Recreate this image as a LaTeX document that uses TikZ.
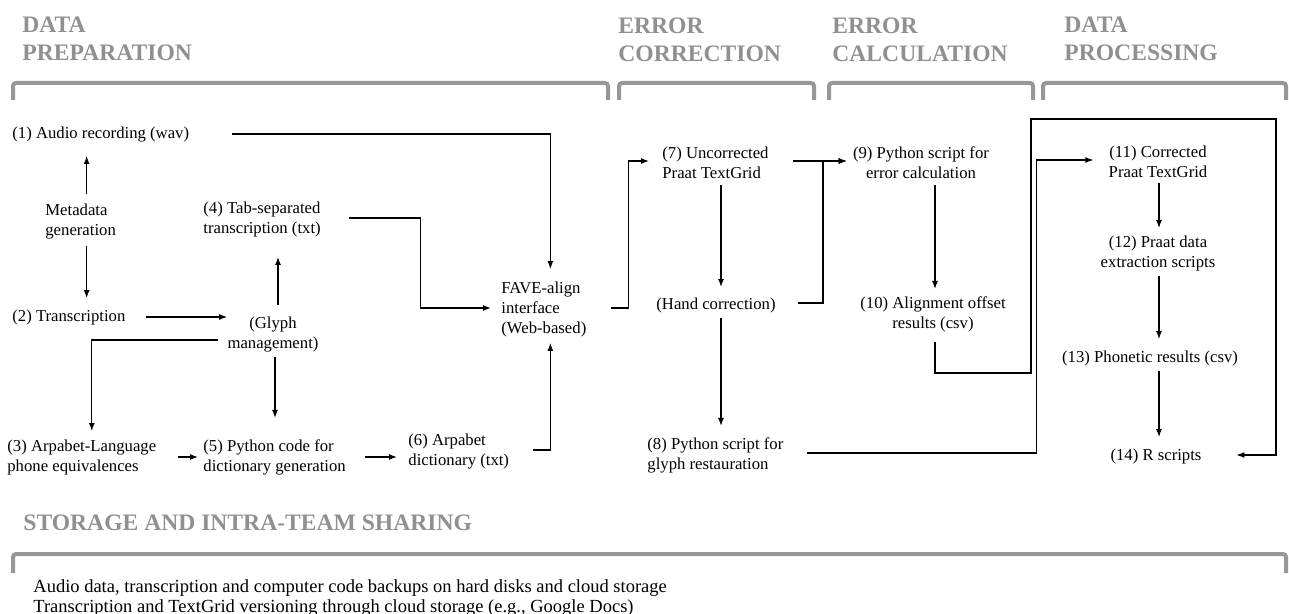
\documentclass[tikz,border=0pt]{standalone}
\usepackage{fontspec}
\setmainfont{Liberation Serif}
\usepackage{tikz}
\usetikzlibrary{calc,arrows.meta}

\definecolor{hdrgray}{RGB}{143,143,148}
\definecolor{brkgray}{RGB}{150,150,155}

\begin{document}
\begin{tikzpicture}[>={Latex[length=4pt,width=3pt]}, x=0.5pt, y=-0.5pt]
\tikzset{
  hdr/.style={font=\fontsize{11.8}{14}\selectfont\bfseries, text=hdrgray, align=left, anchor=north west, inner sep=0pt},
  brk/.style={draw=brkgray, line width=2pt, rounded corners=1.5pt},
  box/.style={font=\fontsize{8.35}{10}\selectfont, inner sep=0pt},
  note/.style={font=\fontsize{9.25}{10}\selectfont, inner sep=0pt, align=left, anchor=west},
  conn/.style={->, line width=0.6pt},
}
\useasboundingbox (0,0) rectangle (1289,614);

% stage headings and brackets
\node[hdr] (hprep) at (22,17) {DATA\\PREPARATION};
\node[hdr] (hcorr) at (618,17) {ERROR\\CORRECTION};
\node[hdr] (hcalc) at (832,17) {ERROR\\CALCULATION};
\node[hdr] (hproc) at (1064,17) {DATA\\PROCESSING};

\draw[brk] (13,100) |- (608,83) -- (608,100);
\draw[brk] (619,100) |- (814,83) -- (814,100);
\draw[brk] (829,100) |- (1033,83) -- (1033,100);
\draw[brk] (1043,100) |- (1286,83) -- (1286,100);

% data preparation
\node[box, anchor=west] (n1) at (12,135) {(1) Audio recording (wav)};
\node[box, align=left, anchor=west] (meta) at (45,222) {Metadata\\generation};
\node[box, anchor=west] (n2) at (12,317) {(2) Transcription};
\node[box, align=center] (glyph) at (273,335) {(Glyph\\management)};
\node[box, align=left, anchor=west] (n4) at (203,219) {(4) Tab-separated\\transcription (txt)};
\node[box, align=left, anchor=west] (n3) at (7,457) {(3) Arpabet-Language\\phone equivalences};
\node[box, align=left, anchor=west] (n5) at (203,457) {(5) Python code for\\dictionary generation};
\node[box, align=left, anchor=west] (n6) at (408,452) {(6) Arpabet\\dictionary (txt)};
\node[box, align=left, anchor=west] (fave) at (501,309) {FAVE-align\\interface\\(Web-based)};

\draw[conn] ($(n1.east)+(43,-1)$) -| ($(fave.north)+(6.5,-12)$);
\draw[conn] ($(meta.north)+(6,-10)$) -- ($(meta.north |- n1.south)+(6,13)$);
\draw[conn] ($(meta.south)+(6,6)$) -- ($(meta.south |- n2.north)+(6,-11)$);
\draw[conn] ($(n2.east)+(20,0)$) -- (n2.east -| glyph.west);
\draw[conn] ($(glyph.north)+(5,-12)$) -- ($(glyph.north |- n4.south)+(5,20)$);
\draw[conn] ($(glyph.south)+(2,4)$) -- ($(glyph.south |- n5.north)+(2,-21)$);
\draw[conn] ($(glyph.west)+(-9,5)$) -| ($(n3.north)+(10,-8)$);
\draw[conn] ($(n4.east)+(28,-1)$) -- ++(71,0) |- ($(fave.west)+(-10,-1)$);
\draw[conn] ($(n3.east)+(21,0)$) -- ($(n5.west)+(-5,0)$);
\draw[conn] ($(n5.east)+(19,0)$) -- ($(n5.east -| n6.west)+(-11,0)$);
\draw[conn] ($(n6.east)+(24,-2)$) -| ($(fave.south)+(6.5,6)$);

% error correction
\node[box, align=left, anchor=west] (n7) at (662,163) {(7) Uncorrected\\Praat TextGrid};
\node[box, anchor=west] (hand) at (656,305) {(Hand correction)};
\node[box, align=left, anchor=west] (n8) at (647,455) {(8) Python script for\\glyph restauration};

\draw[conn] ($(fave.east)+(24,-1)$) -- ++(18,0) |- ($(n7.west)+(-13,-2)$);
\draw[conn] ($(n7.south)+(5.5,6)$) -- ($(n7.south |- hand.north)+(5.5,-10)$);
\draw[conn] ($(hand.south -| n7.south)+(5.5,5)$) -- ($(n7.south |- n8.north)+(5.5,-11)$);

% error calculation
\node[box, align=center] (n9) at (921,163) {(9) Python script for\\error calculation};
\node[box, align=center] (n10) at (933,314) {(10) Alignment offset\\results (csv)};

\draw[conn] ($(n7.east)+(24,-2)$) -- ($(n9.west)+(-6,-2)$);
\draw[conn] ($(hand.east)+(22,-2)$) -- ++(25,0) |- ($(n9.west)+(-6,-2)$);
\draw[conn] ($(n9.south)+(14,6)$) -- ($(n9.south |- n10.north)+(14,-7)$);

% data processing
\node[box, align=center] (n11) at (1158,162) {(11) Corrected\\Praat TextGrid};
\node[box, align=center] (n12) at (1158,253) {(12) Praat data\\extraction scripts};
\node[box] (n13) at (1150,358) {(13) Phonetic results (csv)};
\node[box] (n14) at (1156,456) {(14) R scripts};

\draw[conn] ($(n10.south)+(2,10)$) -- ++(0,31) -- ++(96,0) -- ++(0,-254) -- ++(245,0) |- ($(n14.east)+(34.5,-1)$);
\draw[conn] ($(n8.east)+(23,-2)$) -- ++(230,0) |- ($(n11.west)+(-15,-2)$);
\draw[conn] ($(n11.south)+(1,5)$) -- ($(n11.south |- n12.north)+(1,-7)$);
\draw[conn] ($(n12.south)+(1,5)$) -- ($(n11.south |- n13.north)+(1,-11)$);
\draw[conn] ($(n13.south -| n11.south)+(1,5)$) -- ($(n11.south |- n14.north)+(1,-11)$);

% storage
\node[hdr] (hstor) at (23,514) {STORAGE AND INTRA-TEAM SHARING};
\draw[brk] (13,573) |- (1286,554) -- (1286,573);
\node[note] (store) at (33,598) {Audio data, transcription and computer code backups on hard disks and cloud storage\\Transcription and TextGrid versioning through cloud storage (e.g., Google Docs)};
\end{tikzpicture}
\end{document}
